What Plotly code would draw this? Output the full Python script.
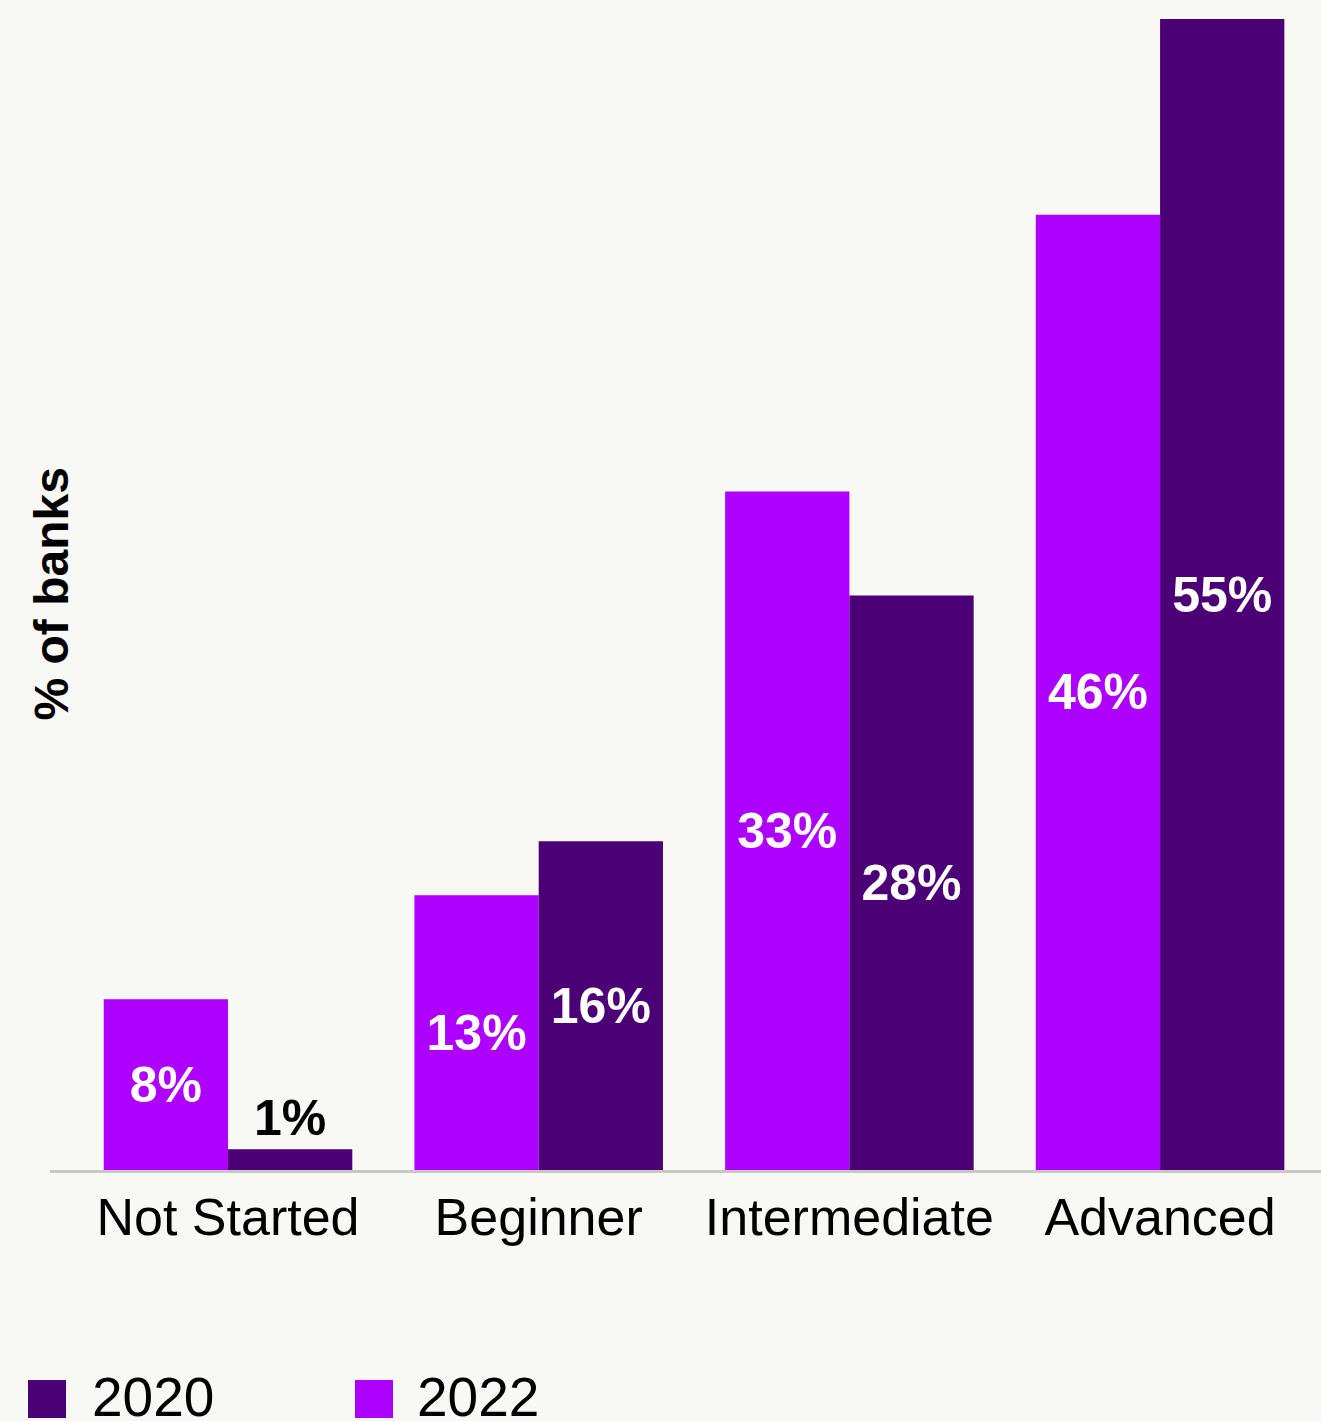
import plotly.graph_objects as go

categories = ["Not Started", "Beginner", "Intermediate", "Advanced"]
values_2022 = [8.2, 13.2, 32.6, 45.9]
values_2020 = [1.0, 15.8, 27.6, 55.3]
labels_2022 = ["8%", "13%", "33%", "46%"]
labels_2020 = ["1%", "16%", "28%", "55%"]
series_names = ["2020", "2022"]

LIGHT = "#AD00FF"
DARK = "#4B0075"
BG = "#F8F8F4"
FONT = "Liberation Sans, Arial, sans-serif"

W, H = 1321, 1421
ML, MR, MT, MB = 50, 0, 19, 251
PW = W - ML - MR
PH = H - MT - MB


def px_x(px):
    return (px - ML) / PW


def px_y(py):
    return (H - MB - py) / PH


fig = go.Figure()
common = dict(
    textposition="auto",
    insidetextanchor="middle",
    textangle=0,
    constraintext="none",
    insidetextfont=dict(color="white", size=50, family=FONT, weight="bold"),
    outsidetextfont=dict(color="black", size=50, family=FONT, weight="bold"),
    hoverinfo="skip",
    showlegend=False,
)
fig.add_trace(go.Bar(x=categories, y=values_2022, text=labels_2022, name="2022",
                     marker=dict(color=LIGHT, line=dict(width=0)), **common))
fig.add_trace(go.Bar(x=categories, y=values_2020, text=labels_2020, name="2020",
                     marker=dict(color=DARK, line=dict(width=0)), **common))

fig.update_layout(
    width=W, height=H,
    margin=dict(l=ML, r=MR, t=MT, b=MB, pad=0),
    paper_bgcolor=BG, plot_bgcolor=BG,
    barmode="group", bargap=0.2, bargroupgap=0,
    font=dict(family=FONT, color="black"),
    hovermode=False,
    xaxis=dict(
        range=[-0.573, 3.518],
        showline=True, linecolor="#C9C9C4", linewidth=3,
        showgrid=False, zeroline=False, ticks="",
        tickfont=dict(size=52, family=FONT, color="black"),
        fixedrange=True,
    ),
    yaxis=dict(range=[0, max(values_2020 + values_2022)], visible=False, fixedrange=True),
)

# y-axis title
fig.add_annotation(text="% of banks", x=px_x(51), y=0.5, xref="paper", yref="paper",
                   textangle=-90, showarrow=False, xanchor="center", yanchor="middle",
                   font=dict(size=48, family=FONT, color="black", weight="bold"))

# manual legend
legend_items = [(series_names[0], DARK, 28, 90), (series_names[1], LIGHT, 355, 415)]
for name, color, sx, tx in legend_items:
    fig.add_shape(type="rect", xref="paper", yref="paper",
                  x0=px_x(sx), x1=px_x(sx + 38), y0=px_y(1380), y1=px_y(1418),
                  fillcolor=color, line=dict(width=0))
    fig.add_annotation(text=name, x=px_x(tx), y=px_y(1397), xref="paper", yref="paper",
                       showarrow=False, xanchor="left", yanchor="middle",
                       font=dict(size=55, family=FONT, color="black"))

fig.write_html("out.html", config={"displayModeBar": False, "staticPlot": True},
               post_script="document.body.style.margin='0';document.body.style.padding='0';")
